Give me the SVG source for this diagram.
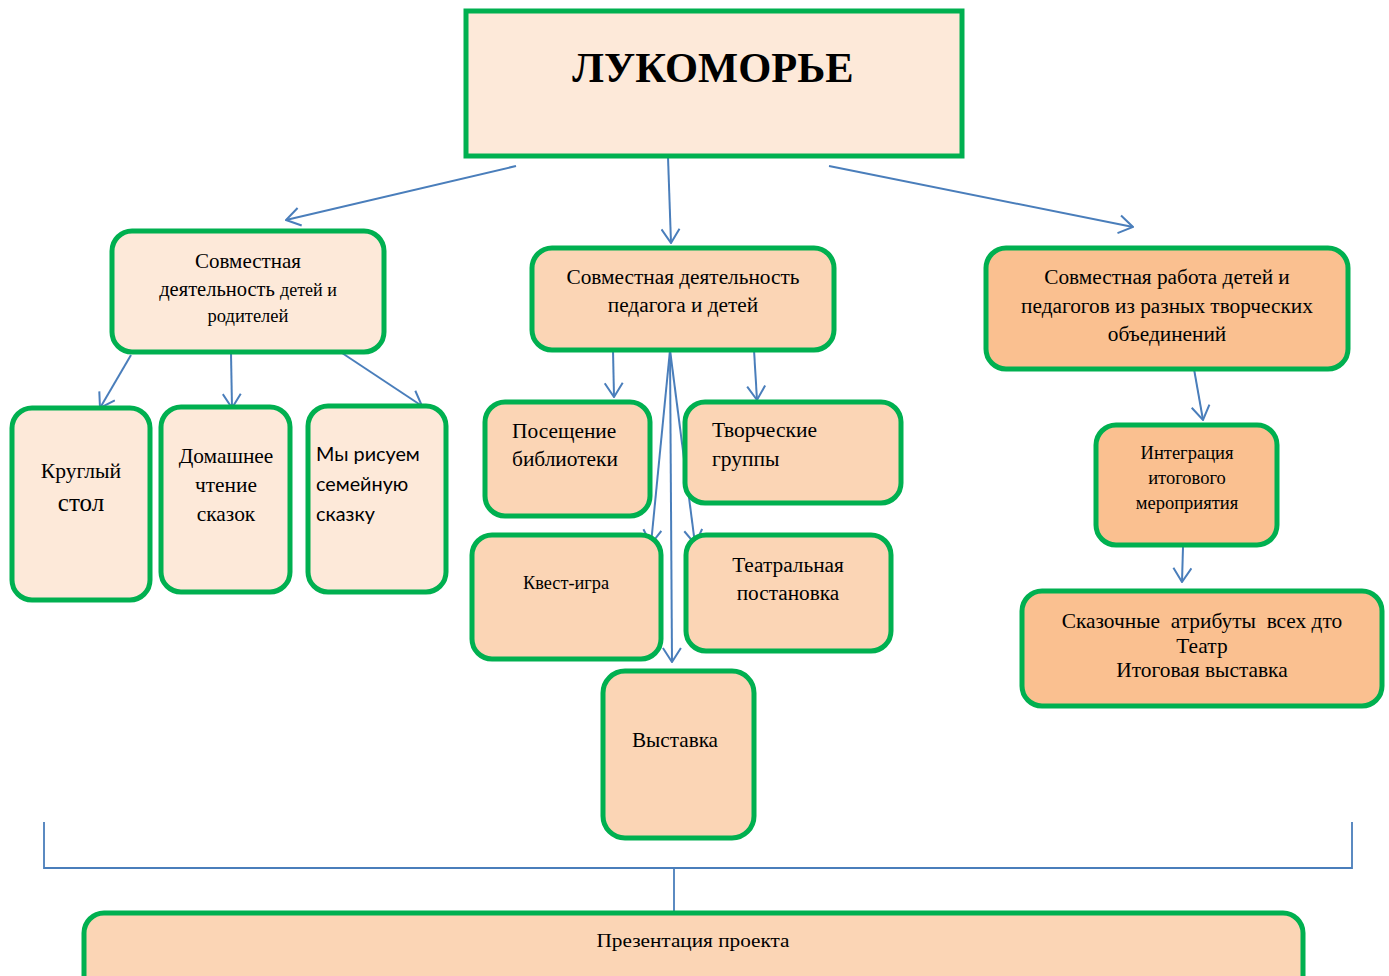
<svg xmlns="http://www.w3.org/2000/svg" width="1389" height="976" viewBox="0 0 1389 976">
<defs>
<style>
.box{stroke:#00B050;stroke-width:5}
.l1{fill:#FDE9D9}
.l2{fill:#FBD5B5}
.l3{fill:#FAC090}
.t{font-family:"Liberation Serif","Times New Roman",serif;fill:#000}
.s{font-family:"Lato","Liberation Sans",sans-serif;fill:#000}
.c{text-anchor:middle}
.ar{stroke:#4A7EBB;stroke-width:2;fill:none;marker-end:url(#ah)}
.ln{stroke:#4A7EBB;stroke-width:1.8;fill:none}
</style>
<marker id="ah" viewBox="0 0 16 20" refX="15" refY="10" markerWidth="16" markerHeight="20" markerUnits="userSpaceOnUse" orient="auto">
<path d="M1,1 L15,10 L1,19" stroke="#4A7EBB" stroke-width="2" fill="none"/>
</marker>
</defs>
<rect width="1389" height="976" fill="#fff"/>

<g id="connectors">
<line class="ar" x1="516" y1="166" x2="286" y2="220"/>
<line class="ar" x1="668" y1="157" x2="671" y2="243"/>
<line class="ar" x1="829" y1="166" x2="1133" y2="227"/>
<line class="ar" x1="131" y1="355" x2="100" y2="408"/>
<line class="ar" x1="231" y1="353" x2="232" y2="408"/>
<line class="ar" x1="336" y1="349" x2="422" y2="406"/>
<line class="ar" x1="613" y1="350" x2="614" y2="397"/>
<line class="ar" x1="754" y1="350" x2="757" y2="400"/>
<line class="ar" x1="670" y1="350" x2="651" y2="544"/>
<line class="ar" x1="670" y1="350" x2="695" y2="544"/>
<line class="ar" x1="670" y1="350" x2="672" y2="662"/>
<line class="ar" x1="1194" y1="369" x2="1203" y2="420"/>
<line class="ar" x1="1183" y1="547" x2="1182" y2="582"/>
<polyline class="ln" points="44,822 44,868 1352,868 1352,822"/>
<line class="ln" x1="674" y1="868" x2="674" y2="913"/>
</g>

<g id="n-top">
<rect class="box l1" x="466" y="11" width="496" height="145"/>
<text class="t c" x="713" y="82" font-size="42.5" font-weight="bold">ЛУКОМОРЬЕ</text>
</g>

<g id="n-parents">
<rect class="box l1" x="112" y="231" width="272" height="121" rx="20"/>
<text class="t c" x="248" y="268" font-size="21">Совместная</text>
<text class="t c" x="248" y="296" font-size="20.5">деятельность <tspan font-size="18">детей и</tspan></text>
<text class="t c" x="248" y="322" font-size="18.5">родителей</text>
</g>

<g id="n-round">
<rect class="box l1" x="12" y="408" width="138" height="192" rx="20"/>
<text class="t c" x="81" y="478" font-size="21.6">Круглый</text>
<text class="t c" x="81" y="511" font-size="25">стол</text>
</g>

<g id="n-home">
<rect class="box l1" x="161" y="407" width="129" height="185" rx="20"/>
<text class="t c" x="226" y="463" font-size="21.4">Домашнее</text>
<text class="t c" x="226" y="492" font-size="21.4">чтение</text>
<text class="t c" x="226" y="521" font-size="21.4">сказок</text>
</g>

<g id="n-draw">
<rect class="box l1" x="308" y="406" width="138" height="186" rx="20"/>
<text class="s" x="316" y="461" font-size="19.8">Мы рисуем</text>
<text class="s" x="316" y="491" font-size="19.8">семейную</text>
<text class="s" x="316" y="521" font-size="19.8">сказку</text>
</g>

<g id="n-teacher">
<rect class="box l2" x="532" y="248" width="302" height="102" rx="20"/>
<text class="t c" x="683" y="284" font-size="21.3">Совместная деятельность</text>
<text class="t c" x="683" y="312" font-size="21.3">педагога и детей</text>
</g>

<g id="n-library">
<rect class="box l2" x="485" y="402" width="165" height="114" rx="20"/>
<text class="t" x="512" y="438" font-size="21.4">Посещение</text>
<text class="t" x="512" y="466" font-size="21.4">библиотеки</text>
</g>

<g id="n-groups">
<rect class="box l2" x="685" y="402" width="216" height="101" rx="20"/>
<text class="t" x="712" y="437" font-size="21.5">Творческие</text>
<text class="t" x="712" y="466" font-size="21.5">группы</text>
</g>

<g id="n-quest">
<rect class="box l2" x="472" y="535" width="189" height="124" rx="20"/>
<text class="t c" x="566" y="589" font-size="18.3">Квест-игра</text>
</g>

<g id="n-theatre">
<rect class="box l2" x="686" y="535" width="205" height="116" rx="20"/>
<text class="t c" x="788" y="572" font-size="21.3">Театральная</text>
<text class="t c" x="788" y="600" font-size="21.3">постановка</text>
</g>

<g id="n-exhibit">
<rect class="box l2" x="603" y="671" width="151" height="167" rx="22"/>
<text class="t c" x="675" y="747" font-size="21.2">Выставка</text>
</g>

<g id="n-creative">
<rect class="box l3" x="986" y="248" width="362" height="121" rx="20"/>
<text class="t c" x="1167" y="284" font-size="21.3">Совместная работа детей и</text>
<text class="t c" x="1167" y="313" font-size="21.3">педагогов из разных творческих</text>
<text class="t c" x="1167" y="341" font-size="21.3">объединений</text>
</g>

<g id="n-integr">
<rect class="box l3" x="1096" y="425" width="181" height="120" rx="20"/>
<text class="t c" x="1187" y="459" font-size="18.5">Интеграция</text>
<text class="t c" x="1187" y="484" font-size="18.5">итогового</text>
<text class="t c" x="1187" y="509" font-size="18.5">мероприятия</text>
</g>

<g id="n-attrs">
<rect class="box l3" x="1022" y="591" width="360" height="115" rx="20"/>
<text class="t c" x="1202" y="628" font-size="21.4" xml:space="preserve">Сказочные  атрибуты  всех дто</text>
<text class="t c" x="1202" y="653" font-size="21.4">Театр</text>
<text class="t c" x="1202" y="677" font-size="21.4">Итоговая выставка</text>
</g>

<g id="n-present">
<rect class="box l2" x="84" y="913" width="1219" height="90" rx="20"/>
<text class="t c" x="693" y="947" font-size="19" textLength="193" lengthAdjust="spacingAndGlyphs">Презентация проекта</text>
</g>
</svg>
